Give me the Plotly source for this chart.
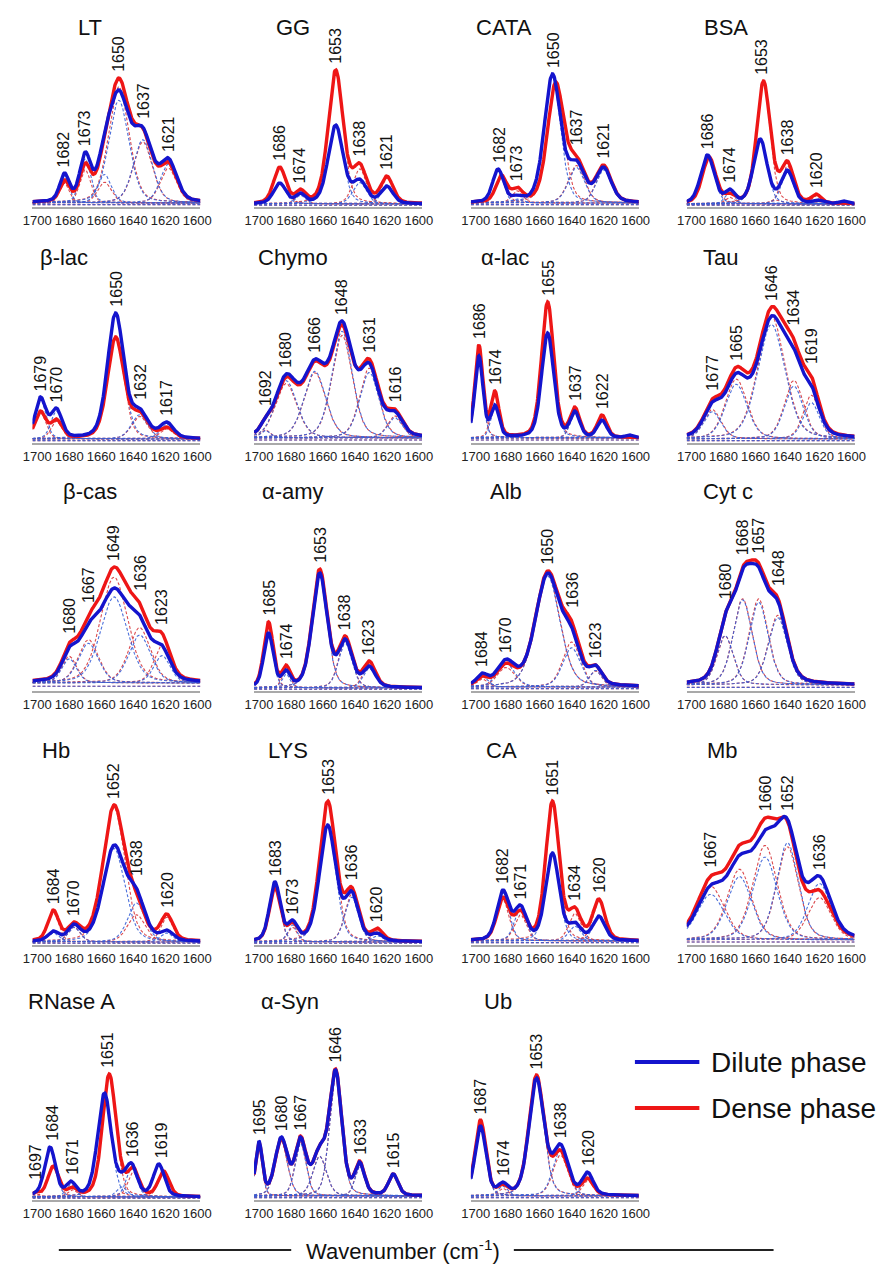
import numpy as np
import plotly.graph_objects as go

# ---------------- data ----------------
PANEL_NAMES = ["LT", "GG", "CATA", "BSA",
               "β-lac", "Chymo", "α-lac", "Tau",
               "β-cas", "α-amy", "Alb", "Cyt c",
               "Hb", "LYS", "CA", "Mb",
               "RNase A", "α-Syn", "Ub"]

PEAK_LABELS = [
    [1682, 1673, 1650, 1637, 1621],
    [1686, 1674, 1653, 1638, 1621],
    [1682, 1673, 1650, 1637, 1621],
    [1686, 1674, 1653, 1638, 1620],
    [1679, 1670, 1650, 1632, 1617],
    [1692, 1680, 1666, 1648, 1631, 1616],
    [1686, 1674, 1655, 1637, 1622],
    [1677, 1665, 1646, 1634, 1619],
    [1680, 1667, 1649, 1636, 1623],
    [1685, 1674, 1653, 1638, 1623],
    [1684, 1670, 1650, 1636, 1623],
    [1680, 1668, 1657, 1648],
    [1684, 1670, 1652, 1638, 1620],
    [1683, 1673, 1653, 1636, 1620],
    [1682, 1671, 1651, 1634, 1620],
    [1667, 1660, 1652, 1636],
    [1697, 1684, 1671, 1651, 1636, 1619],
    [1695, 1680, 1667, 1646, 1633, 1615],
    [1687, 1674, 1653, 1638, 1620],
]

# band positions as drawn (cm-1); the first bands carry the labels above
CENTERS_DILUTE = [
    [1683, 1670, 1649, 1634, 1618, 1658],
    [1687, 1674, 1652, 1637, 1620],
    [1686, 1674, 1652, 1637, 1620],
    [1690, 1676, 1657, 1640, 1621, 1605, 1647],
    [1698, 1688, 1651, 1636, 1619],
    [1696, 1683, 1665, 1648, 1631, 1615],
    [1698, 1688, 1655, 1638, 1621, 1604],
    [1687, 1672, 1650, 1636, 1625],
    [1680, 1668, 1652, 1636, 1622],
    [1694, 1683, 1662, 1646, 1631],
    [1696, 1681, 1655, 1640, 1625],
    [1679, 1668, 1658, 1646],
    [1690, 1677, 1652, 1638, 1619],
    [1690, 1679, 1657, 1642, 1626],
    [1683, 1672, 1652, 1638, 1623],
    [1688, 1654, 1640, 1620, 1670],
    [1701, 1692, 1679, 1658, 1641, 1624, 1647],
    [1700, 1686, 1674, 1652, 1637, 1616, 1662],
    [1697, 1683, 1662, 1647, 1630],
]
CENTERS_DENSE = [
    [1683, 1670, 1649, 1634, 1618, 1658],
    [1687, 1674, 1652, 1637, 1620],
    [1684, 1674, 1650, 1637, 1620],
    [1689, 1676, 1655, 1640, 1622, 1605, 1647],
    [1698, 1688, 1651, 1636, 1619],
    [1696, 1683, 1665, 1648, 1631, 1615],
    [1698, 1688, 1655, 1638, 1621, 1604],
    [1687, 1672, 1650, 1636, 1625],
    [1680, 1668, 1652, 1636, 1622],
    [1694, 1683, 1662, 1646, 1631],
    [1696, 1681, 1655, 1640, 1625],
    [1679, 1668, 1658, 1646],
    [1690, 1677, 1652, 1638, 1619],
    [1690, 1679, 1657, 1642, 1626],
    [1683, 1672, 1652, 1638, 1623],
    [1688, 1654, 1640, 1620, 1670],
    [1701, 1690, 1678, 1655, 1640, 1621, 1647],
    [1700, 1686, 1674, 1652, 1637, 1616, 1662],
    [1697, 1683, 1662, 1647, 1630],
]
BAND_WIDTHS = [
    [7, 8, 15, 14, 12, 10],
    [9, 7, 11, 10, 9],
    [8, 8, 12, 12, 11],
    [10, 7, 10, 9, 7, 6, 9],
    [8, 8, 12, 12, 10],
    [7, 16, 16, 15, 14, 11],
    [6, 6, 9, 7, 7, 5],
    [13, 16, 20, 14, 12],
    [11, 15, 20, 16, 12],
    [7, 6, 11, 10, 9],
    [8, 13, 18, 13, 9],
    [12, 14, 14, 14],
    [8, 9, 16, 13, 9],
    [8, 7, 12, 10, 8],
    [9, 9, 10, 9, 9],
    [20, 18, 16, 17, 18],
    [6, 8, 7, 10, 8, 8, 8],
    [5, 9, 8, 9, 7, 7, 10],
    [8, 7, 11, 11, 8],
]
# total absorbance read at each band position (a.u., panel scale)
DILUTE_PEAK_HEIGHTS = [
    [34, 55, 117, 80, 49, 75],
    [24, 14, 82, 28, 21],
    [38, 12, 133, 47, 40],
    [52, 18, 68, 37, 7, 6, 18],
    [46, 35, 130, 35, 21],
    [26, 69, 84, 122, 80, 32],
    [87, 38, 110, 32, 23, 8],
    [41, 70, 127, 95, 58],
    [44, 68, 103, 76, 46],
    [58, 21, 118, 52, 25],
    [18, 32, 118, 64, 26],
    [77, 122, 124, 90],
    [14, 21, 100, 57, 15],
    [63, 25, 120, 54, 12],
    [55, 40, 92, 23, 29],
    [60, 115, 126, 69, 90],
    [8, 53, 19, 107, 37, 36, 28],
    [59, 63, 63, 130, 38, 26, 55],
    [74, 18, 122, 56, 28],
]
DENSE_PEAK_HEIGHTS = [
    [27, 44, 129, 79, 45, 72],
    [40, 18, 137, 44, 31],
    [32, 20, 125, 52, 42],
    [50, 14, 126, 46, 13, 4, 40],
    [32, 24, 106, 32, 16],
    [26, 66, 82, 118, 84, 34],
    [98, 52, 141, 36, 28, 6],
    [44, 76, 136, 104, 67],
    [48, 76, 124, 88, 58],
    [69, 26, 122, 55, 30],
    [15, 28, 120, 70, 26],
    [77, 124, 128, 93],
    [35, 23, 140, 52, 31],
    [58, 23, 144, 58, 17],
    [48, 35, 144, 38, 46],
    [69, 127, 124, 55, 100],
    [8, 34, 13, 126, 33, 29, 36],
    [58, 62, 64, 131, 39, 26, 55],
    [80, 16, 125, 50, 22],
]
BASE_OFFSETS = [4, 3, 4, 3, 4, 5, 5, 4, 8, 3, 4, 6, 3, 3, 4, 5, 3, 4, 4]

TICK_VALUES = [1700, 1680, 1660, 1640, 1620, 1600]
LEGEND_NAMES = ["Dilute phase", "Dense phase"]
AXIS_TITLE = "Wavenumber (cm<sup>-1</sup>)"

# ---------------- styling / layout ----------------
W, H = 891, 1265
COL_X = [23, 250, 472, 693]          # px, left end of each panel baseline
PANEL_W = 172
ROW_Y = [207, 443, 691, 945, 1200]   # px, baseline of each row
TITLE_Y = [28, 258, 491, 750, 1001]
TITLE_X = [82, 290, 506, 733, 55, 290, 507, 728, 82, 290, 508, 735,
           47, 285, 503, 730, 63, 287, 500]
XR = [1703, 1598]
PANEL_H = 200

BLUE = "rgb(20,20,205)"
RED = "rgb(238,22,22)"
BLUE_C = "rgba(55,95,215,0.9)"
RED_C = "rgba(215,55,60,0.9)"
FONT = "Liberation Sans, Arial, sans-serif"

xs = np.linspace(XR[0], XR[1], 421)
ETA = 0.3


def band(x, c, h, w):
    d2 = (np.asarray(x, float) - c) ** 2 / w ** 2
    return h * ((1 - ETA) * np.exp(-4 * np.log(2) * d2) + ETA / (1 + 4 * d2))


def band_amplitudes(centers, widths, totals, base):
    """Amplitudes of the bands so that their sum meets the totals read at the band positions."""
    n = len(centers)
    A = np.array([[band(centers[i], centers[j], 1.0, widths[j]) for j in range(n)]
                  for i in range(n)])
    t = np.array(totals, float) - base
    free = list(range(n))
    amp = np.zeros(n)
    for _ in range(n):
        sol, *_ = np.linalg.lstsq(A[:, free], t, rcond=None)
        if (sol >= 0).all():
            amp[:] = 0
            amp[free] = sol
            break
        free.pop(int(np.argmin(sol)))
    return np.clip(amp, 0, None)


fig = go.Figure()
annotations = []
layout = {}

for i, name in enumerate(PANEL_NAMES):
    r, c = divmod(i, 4)
    k = "" if i == 0 else str(i + 1)
    xa, ya = "x" + k, "y" + k
    x0 = COL_X[c] / W
    x1 = (COL_X[c] + PANEL_W) / W
    y0 = 1 - ROW_Y[r] / H
    y1 = 1 - (ROW_Y[r] - PANEL_H) / H
    layout["xaxis" + k] = dict(domain=[x0, x1], range=XR, anchor=ya,
                               tickvals=TICK_VALUES, ticks="", showgrid=False,
                               zeroline=False, showline=True, linecolor="#A9A9A9",
                               linewidth=2, tickfont=dict(size=13, color="#222", family=FONT),
                               fixedrange=True)
    layout["yaxis" + k] = dict(domain=[y0, y1], range=[0, PANEL_H], anchor=xa,
                               visible=False, fixedrange=True)

    b = BASE_OFFSETS[i]
    totals = {}
    for phase, cen, tgt, ccol, lcol in (
            ("dense", CENTERS_DENSE[i], DENSE_PEAK_HEIGHTS[i], RED_C, RED),
            ("dilute", CENTERS_DILUTE[i], DILUTE_PEAK_HEIGHTS[i], BLUE_C, BLUE)):
        amps = band_amplitudes(cen, BAND_WIDTHS[i], tgt, b)
        tot = np.full_like(xs, float(b))
        for cc, hh, ww in zip(cen, amps, BAND_WIDTHS[i]):
            comp = band(xs, cc, hh, ww)
            tot += comp
            fig.add_trace(go.Scatter(x=xs, y=b + comp, mode="lines", xaxis=xa, yaxis=ya,
                                     line=dict(color=ccol, width=1.1, dash="3px,2px"),
                                     showlegend=False, hoverinfo="skip"))
        fig.add_trace(go.Scatter(x=[XR[0], XR[1]], y=[b * 0.6, b * 0.6], mode="lines",
                                 xaxis=xa, yaxis=ya,
                                 line=dict(color=ccol, width=1.1, dash="3px,2px"),
                                 showlegend=False, hoverinfo="skip"))
        totals[phase] = (tot, lcol)
    for phase in ("dense", "dilute"):
        tot, lcol = totals[phase]
        fig.add_trace(go.Scatter(x=xs, y=tot, mode="lines", xaxis=xa, yaxis=ya,
                                 line=dict(color=lcol, width=3.4),
                                 name=LEGEND_NAMES[0] if phase == "dilute" else LEGEND_NAMES[1],
                                 showlegend=False))

    # peak labels
    both = np.maximum(totals["dense"][0], totals["dilute"][0])
    for j, lab in enumerate(PEAK_LABELS[i]):
        xc = 0.5 * (CENTERS_DILUTE[i][j] + CENTERS_DENSE[i][j])
        m = np.abs(xs - xc) <= 2.5
        yv = float(both[m].max())
        annotations.append(dict(x=xc, y=yv + 4, xref=xa, yref=ya, text=str(lab),
                                textangle=-90, showarrow=False, xanchor="center",
                                yanchor="bottom", font=dict(size=16, color="#111", family=FONT)))
    # panel title
    annotations.append(dict(x=TITLE_X[i] / W, y=1 - TITLE_Y[r] / H, xref="paper", yref="paper",
                            text=name, showarrow=False, xanchor="center", yanchor="middle",
                            font=dict(size=22, color="#111", family=FONT)))

# legend (drawn manually)
shapes = []
LEG_Y = [1062, 1108]
for name, col, ly in zip(LEGEND_NAMES, [BLUE, RED], LEG_Y):
    shapes.append(dict(type="line", xref="paper", yref="paper", x0=640 / W, x1=706 / W,
                       y0=1 - ly / H, y1=1 - ly / H, line=dict(color=col, width=4)))
    annotations.append(dict(x=716 / W, y=1 - ly / H, xref="paper", yref="paper", text=name,
                            showarrow=False, xanchor="left", yanchor="middle",
                            font=dict(size=28, color="#111", family=FONT)))

# common x-axis title with side rules
AX_Y = 1250
annotations.append(dict(x=402 / W, y=1 - AX_Y / H, xref="paper", yref="paper", text=AXIS_TITLE,
                        showarrow=False, xanchor="center", yanchor="middle",
                        font=dict(size=22, color="#111", family=FONT)))
for a0, a1 in ((50, 288), (516, 782)):
    shapes.append(dict(type="line", xref="paper", yref="paper", x0=a0 / W, x1=a1 / W,
                       y0=1 - AX_Y / H, y1=1 - AX_Y / H, line=dict(color="#222", width=2)))

fig.update_layout(width=W, height=H, margin=dict(l=0, r=0, t=0, b=0),
                  paper_bgcolor="white", plot_bgcolor="white", showlegend=False,
                  annotations=annotations, shapes=shapes, font=dict(family=FONT), **layout)

fig.write_html("out.html")
